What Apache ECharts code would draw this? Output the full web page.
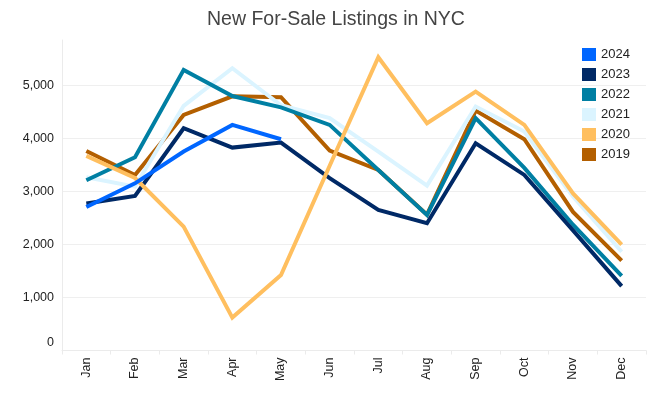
<!DOCTYPE html>
<html>
<head>
<meta charset="utf-8">
<script src="https://cdn.jsdelivr.net/npm/echarts@6/dist/echarts.min.js"></script>
<style>
html,body{margin:0;padding:0;background:#fff;}
#chart{width:651px;height:395px;}
</style>
</head>
<body>
<div id="chart"></div>
<script>
const months = ['Jan','Feb','Mar','Apr','May','Jun','Jul','Aug','Sep','Oct','Nov','Dec'];
const yTicks = [0, 1000, 2000, 3000, 4000, 5000];
const legendOrder = ['2024','2023','2022','2021','2020','2019'];

const s2024 = [2705, 3150, 3750, 4250, 3980];
const s2023 = [2768, 2912, 4188, 3823, 3918, 3246, 2648, 2397, 3905, 3308, 2262, 1212];
const s2022 = [3208, 3641, 5287, 4795, 4580, 4251, 3400, 2554, 4377, 3440, 2370, 1404];
const s2021 = [3265, 3088, 4610, 5319, 4620, 4377, 3748, 3107, 4596, 4125, 2900, 1860];
const s2020 = [3666, 3250, 2334, 620, 1423, 3480, 5526, 4282, 4879, 4251, 2960, 1995];
const s2019 = [3760, 3308, 4439, 4790, 4772, 3766, 3402, 2560, 4521, 3981, 2610, 1693];

const colors = {
  '2024': '#0066ff',
  '2023': '#002966',
  '2022': '#007fa3',
  '2021': '#dbf4ff',
  '2020': '#ffbf5f',
  '2019': '#b35f00'
};

const FONT = 'Liberation Sans, Arial, sans-serif';

function line(name, data, z) {
  return {
    name: name, type: 'line', data: data, z: z,
    symbol: 'none', showSymbol: false,
    lineStyle: { width: 4, color: colors[name], join: 'miter' },
    itemStyle: { color: colors[name] },
    emphasis: { disabled: true },
    animation: false
  };
}

const chart = echarts.init(document.getElementById('chart'), null, { renderer: 'canvas' });
chart.setOption({
  animation: false,
  backgroundColor: '#fff',
  title: {
    text: 'New For-Sale Listings in NYC',
    left: 202, top: 5,
    textStyle: { fontFamily: FONT, fontSize: 19.5, fontWeight: 'normal', color: '#444' }
  },
  legend: {
    data: legendOrder,
    orient: 'vertical',
    left: 577, top: 43,
    itemWidth: 14, itemHeight: 13, itemGap: 7,
    icon: 'rect',
    textStyle: { fontFamily: FONT, fontSize: 13, color: '#222' }
  },
  grid: { left: 62, right: 5, top: 40, bottom: 44.5, containLabel: false },
  xAxis: {
    type: 'category',
    data: months,
    boundaryGap: true,
    axisLine: { show: true, lineStyle: { color: '#ebebeb', width: 1 } },
    axisTick: { show: true, length: 4, lineStyle: { color: '#ebebeb' } },
    axisLabel: { rotate: 90, margin: 7, fontFamily: FONT, fontSize: 12.5, color: '#222' },
    splitLine: { show: false }
  },
  yAxis: {
    type: 'value',
    min: yTicks[0], max: 5850, interval: 1000,
    axisLine: { show: true, lineStyle: { color: '#ebebeb' } },
    axisTick: { show: false },
    axisLabel: {
      margin: 8, showMaxLabel: false,
      fontFamily: FONT, fontSize: 12.5, color: '#222',
      formatter: function (v) {
        if (yTicks.indexOf(v) < 0) return '';
        if (v === 0) return '{z|0}';
        return v.toLocaleString('en-US');
      },
      rich: { z: { fontFamily: FONT, fontSize: 12.5, color: '#222', padding: [0, 0, 16, 0] } }
    },
    splitLine: { show: true, showMaxLine: false, lineStyle: { color: '#efefef', width: 1 } }
  },
  series: [
    line('2019', s2019, 1),
    line('2021', s2021, 2),
    line('2022', s2022, 3),
    line('2023', s2023, 4),
    line('2020', s2020, 5),
    line('2024', s2024, 6)
  ]
});
</script>
</body>
</html>
